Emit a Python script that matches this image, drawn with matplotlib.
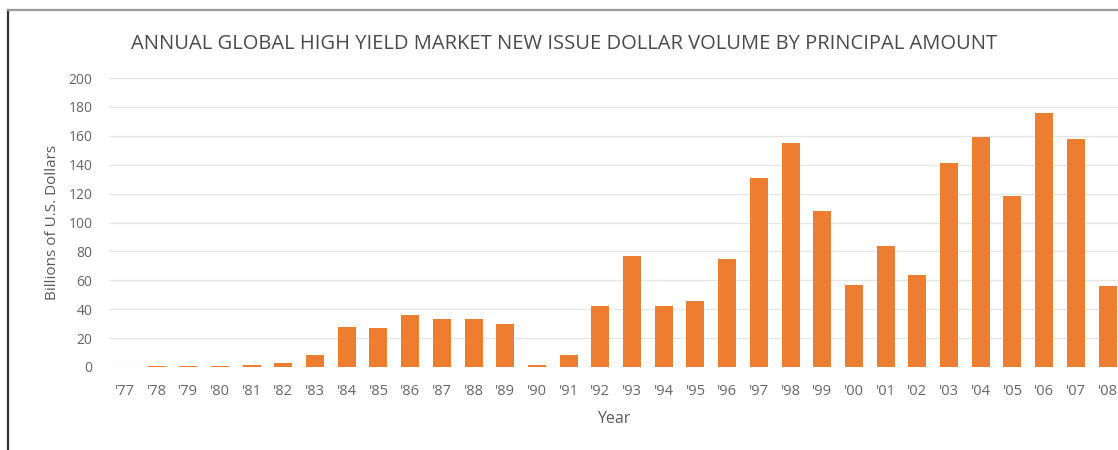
import matplotlib.pyplot as plt
from matplotlib.lines import Line2D

years = ["'77", "'78", "'79", "'80", "'81", "'82", "'83", "'84", "'85", "'86",
         "'87", "'88", "'89", "'90", "'91", "'92", "'93", "'94", "'95", "'96",
         "'97", "'98", "'99", "'00", "'01", "'02", "'03", "'04", "'05", "'06",
         "'07", "'08"]
volume = [0.2, 0.6, 0.8, 0.9, 1.2, 2.8, 8, 28, 27, 36,
          33, 33, 30, 1.5, 8, 42, 77, 42, 46, 75,
          131, 155, 108, 57, 84, 64, 141, 159, 118, 176,
          158, 56]

plt.rcParams['font.family'] = ['Open Sans', 'DejaVu Sans']

fig = plt.figure(figsize=(11.18, 4.5), dpi=100)
W, H = 1118, 450
ax = fig.add_axes([109 / W, 1 - 367 / H, (W - 109) / W, (367 - 78) / H])

x = range(len(years))
ax.bar(x, volume, width=0.57, color='#ED7D31', zorder=3)

ax.set_xlim(-0.5, 31.33)
ax.set_ylim(0, 200)
ax.set_yticks(range(0, 201, 20))
ax.set_xticks(list(x))
ax.set_xticklabels(years)
ax.grid(axis='y', color='#e6e6e6', linewidth=0.9, zorder=0)
for s in ax.spines.values():
    s.set_visible(False)
ax.tick_params(axis='both', length=0, colors='#666666')
ax.tick_params(axis='y', pad=12, labelsize=10)
ax.tick_params(axis='x', pad=12, labelsize=10.5)

ax.set_ylabel('Billions of U.S. Dollars', fontsize=11, color='#595959', labelpad=6)
ax.set_xlabel('Year', fontsize=11.5, color='#595959', labelpad=9)

fig.text(564 / W, 1 - 44 / H,
         'ANNUAL GLOBAL HIGH YIELD MARKET NEW ISSUE DOLLAR VOLUME BY PRINCIPAL AMOUNT',
         ha='center', va='center', fontsize=14.5, color='#4a4a4a')

# outer frame (left and top edges visible)
fig.add_artist(Line2D([8 / W, 8 / W], [0, 1 - 10 / H], color='#333333', linewidth=1.6))
fig.add_artist(Line2D([8 / W, 1], [1 - 10 / H, 1 - 10 / H], color='#9a9a9a', linewidth=1.6))

fig.savefig('out.png', dpi=100)
